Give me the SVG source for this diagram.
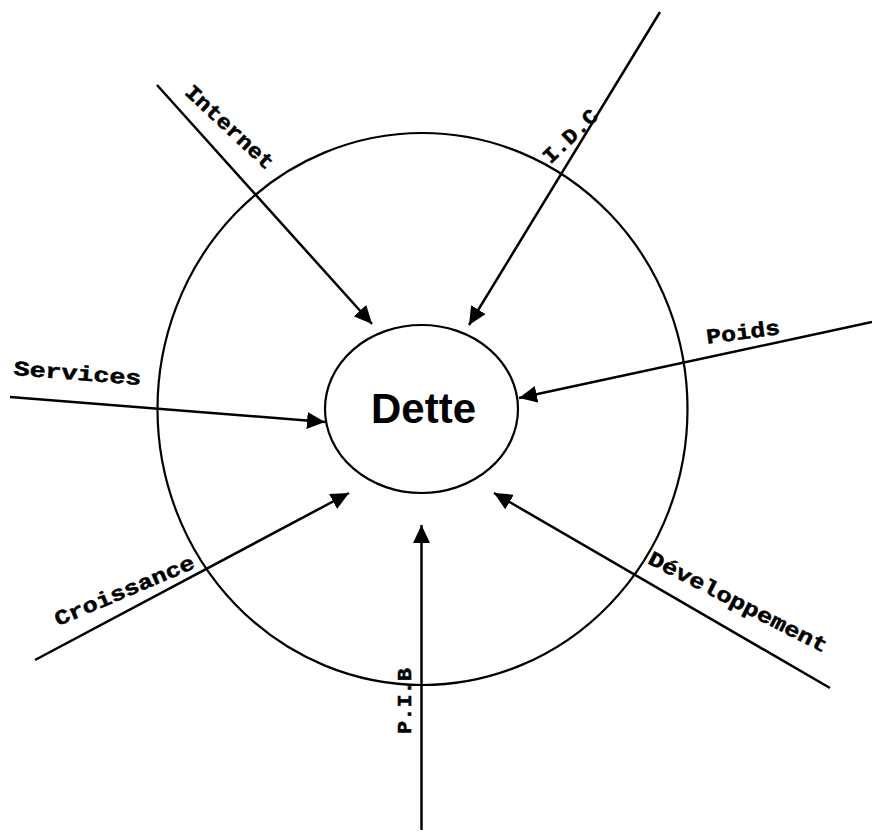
<svg xmlns="http://www.w3.org/2000/svg" width="872" height="834" viewBox="0 0 872 834">
<style>
.ln{stroke:#000;stroke-width:2.5;fill:none;marker-end:url(#ah)}
.lbl{font-family:"Liberation Mono","DejaVu Sans Mono",monospace;font-weight:bold;font-size:21px;fill:#000;stroke:#000;stroke-width:0.5;text-anchor:middle}
.ring{fill:none;stroke:#000;stroke-width:2.2}
</style>
<defs>
<marker id="ah" markerUnits="userSpaceOnUse" markerWidth="19" markerHeight="18" refX="18" refY="8.5" orient="auto">
<path d="M0,0 L18,8.5 L0,17 z" fill="#000"/>
</marker>
</defs>
<rect width="872" height="834" fill="#fff"/>
<g id="outer-circle"><ellipse class="ring" cx="422.5" cy="409" rx="265" ry="276"/></g>
<g id="connectors">
<line class="ln" x1="157" y1="85" x2="372" y2="324"/>
<line class="ln" x1="660" y1="12" x2="469" y2="325"/>
<line class="ln" x1="872" y1="322" x2="519" y2="398"/>
<line class="ln" x1="10" y1="397" x2="325" y2="422"/>
<line class="ln" x1="35" y1="660" x2="349" y2="493"/>
<line class="ln" x1="830" y1="688" x2="494" y2="493"/>
<line class="ln" x1="421.5" y1="830" x2="421.5" y2="525"/>
</g>
<g id="dette">
<ellipse class="ring" cx="421.5" cy="409" rx="96.5" ry="84"/>
<text x="423.5" y="423" font-family="Liberation Sans, Arial, sans-serif" font-weight="bold" font-size="42" text-anchor="middle">Dette</text>
</g>
<g id="internet"><text class="lbl" transform="translate(225,132) rotate(43)" textLength="113" lengthAdjust="spacingAndGlyphs">Internet</text></g>
<g id="idc"><text class="lbl" transform="translate(575,141) rotate(-44)" textLength="68" lengthAdjust="spacingAndGlyphs">I.D.C</text></g>
<g id="poids"><text class="lbl" transform="translate(744,339) rotate(-7.5)" textLength="74" lengthAdjust="spacingAndGlyphs">Poids</text></g>
<g id="services"><text class="lbl" transform="translate(77,380) rotate(4.5)" textLength="128" lengthAdjust="spacingAndGlyphs">Services</text></g>
<g id="croissance"><text class="lbl" transform="translate(127,597) rotate(-23)" textLength="150" lengthAdjust="spacingAndGlyphs">Croissance</text></g>
<g id="developpement"><text class="lbl" transform="translate(735,608) rotate(27)" textLength="198" lengthAdjust="spacingAndGlyphs">Développement</text></g>
<g id="pib"><text class="lbl" transform="translate(411,701) rotate(-90)" textLength="66" lengthAdjust="spacingAndGlyphs">P.I.B</text></g>
</svg>
